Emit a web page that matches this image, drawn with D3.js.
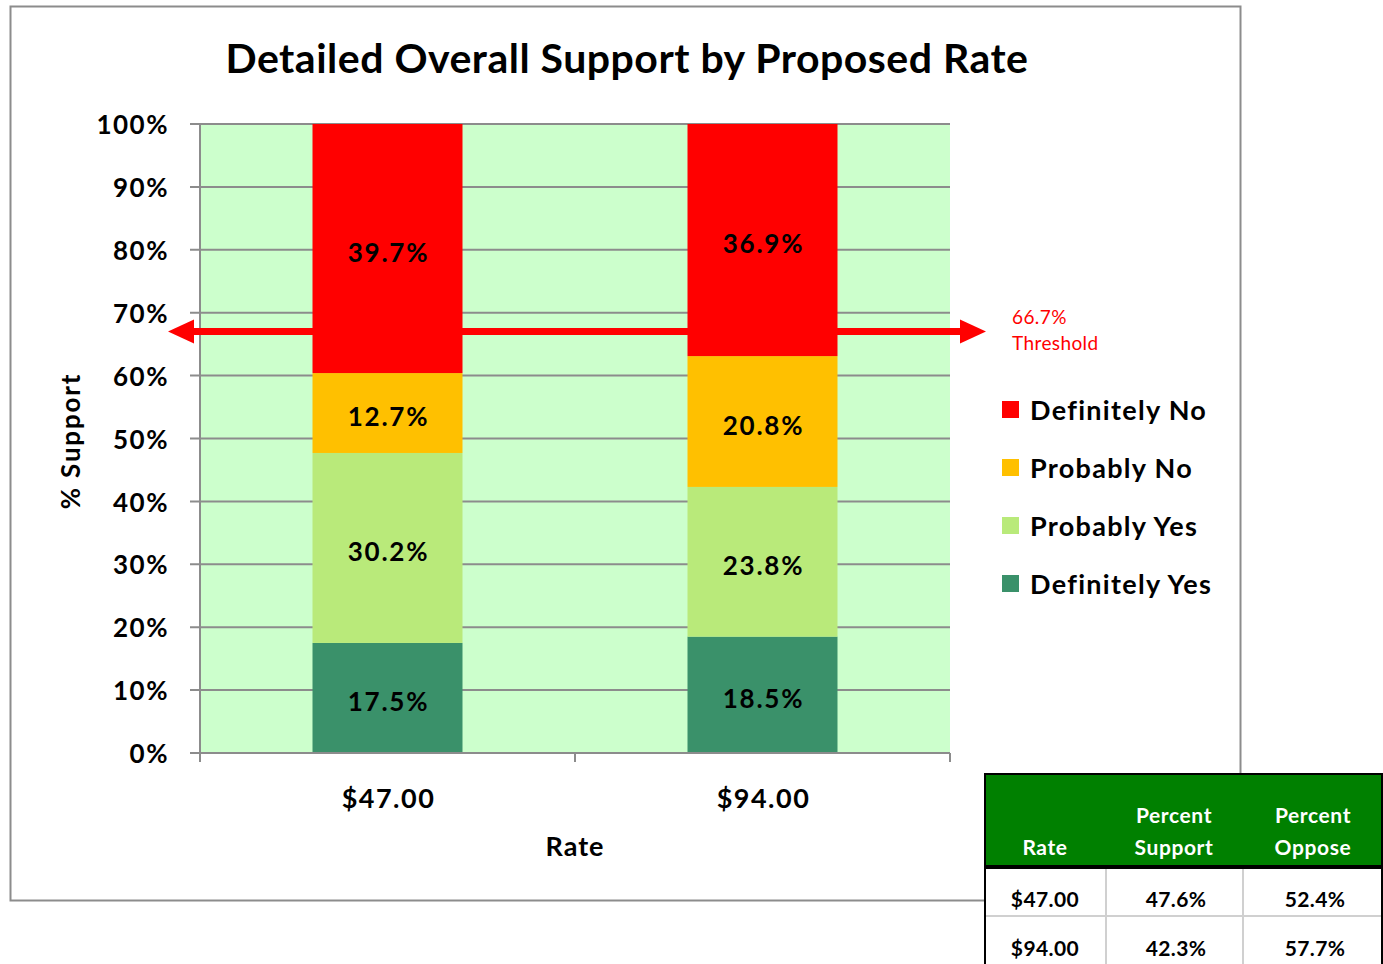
<!DOCTYPE html>
<html>
<head>
<meta charset="utf-8">
<script src="https://cdn.jsdelivr.net/npm/d3@7"></script>
<style>
  body { margin: 0; background: #fff; }
  svg { font-family: Lato, "Open Sans", sans-serif; }
</style>
</head>
<body>
<svg id="chart"></svg>
<script>
// chart data
const rates = ["$47.00", "$94.00"];
const seriesNames = ["Definitely Yes", "Probably Yes", "Probably No", "Definitely No"];
const definitelyYes = [17.5, 18.5];
const probablyYes = [30.2, 23.8];
const probablyNo = [12.7, 20.8];
const definitelyNo = [39.7, 36.9];
const yTicks = [0, 10, 20, 30, 40, 50, 60, 70, 80, 90, 100];
const threshold = 66.7;

// summary table
const tableHeader = [["Rate"], ["Percent", "Support"], ["Percent", "Oppose"]];
const tableRows = [
  ["$47.00", "47.6%", "52.4%"],
  ["$94.00", "42.3%", "57.7%"]
];

const COLORS = {
  "Definitely No": "#FF0000",
  "Probably No": "#FFC000",
  "Probably Yes": "#B9EA7A",
  "Definitely Yes": "#3A916A"
};

const width = 1383;
const height = 964;

const svg = d3.select("#chart")
  .attr("width", width)
  .attr("height", height);

// chart frame
svg.append("rect")
  .attr("x", 10.5).attr("y", 6.5)
  .attr("width", 1230).attr("height", 894)
  .attr("fill", "#fff")
  .attr("stroke", "#8c8c8c")
  .attr("stroke-width", 2);

const plot = { left: 200, right: 950, top: 124, bottom: 753 };

const x = d3.scaleBand()
  .domain(rates)
  .range([plot.left, plot.right])
  .paddingInner(0.6)
  .paddingOuter(0.3);

const y = d3.scaleLinear()
  .domain([0, 100])
  .range([plot.bottom, plot.top]);

// plot background
svg.append("rect")
  .attr("x", plot.left).attr("y", plot.top)
  .attr("width", plot.right - plot.left)
  .attr("height", plot.bottom - plot.top)
  .attr("fill", "#CCFFCC");

// gridlines + y ticks
svg.append("g")
  .selectAll("line")
  .data(yTicks)
  .join("line")
  .attr("x1", plot.left - 10)
  .attr("x2", plot.right)
  .attr("y1", d => y(d))
  .attr("y2", d => y(d))
  .attr("stroke", "#8c8c8c")
  .attr("stroke-width", 2);

svg.append("g")
  .selectAll("text")
  .data(yTicks)
  .join("text")
  .attr("x", plot.left - 31)
  .attr("y", d => y(d) + 1)
  .attr("dy", "0.35em")
  .attr("text-anchor", "end")
  .attr("font-size", 26)
  .attr("font-weight", "bold")
  .attr("letter-spacing", 1.5)
  .text(d => d + "%");

// stacked bars
const table = rates.map((r, i) => ({
  rate: r,
  "Definitely Yes": definitelyYes[i],
  "Probably Yes": probablyYes[i],
  "Probably No": probablyNo[i],
  "Definitely No": definitelyNo[i]
}));

const stacked = d3.stack().keys(seriesNames)(table);

const layers = svg.append("g")
  .selectAll("g")
  .data(stacked)
  .join("g")
  .attr("fill", d => COLORS[d.key]);

layers.selectAll("rect")
  .data(d => d)
  .join("rect")
  .attr("x", d => x(d.data.rate))
  .attr("width", x.bandwidth())
  .attr("y", d => y(Math.min(d[1], 100)))
  .attr("height", d => y(d[0]) - y(Math.min(d[1], 100)));

layers.selectAll("text")
  .data(d => d.map(v => ({ v, key: d.key })))
  .join("text")
  .attr("x", d => x(d.v.data.rate) + x.bandwidth() / 2 + 1)
  .attr("y", d => y((d.v[0] + Math.min(d.v[1], 100)) / 2) + 4)
  .attr("dy", "0.35em")
  .attr("text-anchor", "middle")
  .attr("fill", "#000")
  .attr("font-size", 26)
  .attr("font-weight", "bold")
  .attr("letter-spacing", 1.8)
  .text(d => d.v.data[d.key].toFixed(1) + "%");

// axis lines
svg.append("line")
  .attr("x1", plot.left).attr("x2", plot.left)
  .attr("y1", plot.top).attr("y2", plot.bottom + 9)
  .attr("stroke", "#8c8c8c").attr("stroke-width", 2);

svg.append("line")
  .attr("x1", plot.left - 10).attr("x2", plot.right)
  .attr("y1", plot.bottom).attr("y2", plot.bottom)
  .attr("stroke", "#8c8c8c").attr("stroke-width", 2);

const catEdges = [plot.left, (x(rates[0]) + x(rates[1]) + x.bandwidth()) / 2, plot.right];
svg.append("g")
  .selectAll("line")
  .data(catEdges)
  .join("line")
  .attr("x1", d => d).attr("x2", d => d)
  .attr("y1", plot.bottom).attr("y2", plot.bottom + 9)
  .attr("stroke", "#8c8c8c").attr("stroke-width", 2);

svg.append("g")
  .selectAll("text")
  .data(rates)
  .join("text")
  .attr("x", d => x(d) + x.bandwidth() / 2 + 1)
  .attr("y", 799)
  .attr("dy", "0.35em")
  .attr("text-anchor", "middle")
  .attr("font-size", 27)
  .attr("font-weight", "bold")
  .attr("letter-spacing", 1.5)
  .text(d => d);

// threshold arrow
const ty = y(threshold) - 2;
const arrowX1 = 168, arrowX2 = 986;
svg.append("line")
  .attr("x1", arrowX1 + 20).attr("x2", arrowX2 - 20)
  .attr("y1", ty).attr("y2", ty)
  .attr("stroke", "#FF0000")
  .attr("stroke-width", 7);
svg.append("path")
  .attr("d", `M${arrowX1},${ty} L${arrowX1 + 26},${ty - 12} L${arrowX1 + 26},${ty + 12} Z`)
  .attr("fill", "#FF0000");
svg.append("path")
  .attr("d", `M${arrowX2},${ty} L${arrowX2 - 26},${ty - 12} L${arrowX2 - 26},${ty + 12} Z`)
  .attr("fill", "#FF0000");

svg.append("text")
  .attr("x", 1012).attr("y", 324)
  .attr("fill", "#FF0000").attr("font-size", 19)
  .attr("letter-spacing", 0.4)
  .text(threshold + "%");
svg.append("text")
  .attr("x", 1012).attr("y", 350)
  .attr("fill", "#FF0000").attr("font-size", 19)
  .attr("letter-spacing", 0.4)
  .text("Threshold");

// titles
svg.append("text")
  .attr("x", 627).attr("y", 73)
  .attr("text-anchor", "middle")
  .attr("font-size", 41)
  .attr("font-weight", "bold")
  .attr("letter-spacing", 0.5)
  .text("Detailed Overall Support by Proposed Rate");

svg.append("text")
  .attr("x", 575).attr("y", 856)
  .attr("text-anchor", "middle")
  .attr("font-size", 27)
  .attr("font-weight", "bold")
  .attr("letter-spacing", 1)
  .text("Rate");

svg.append("text")
  .attr("transform", "translate(80,441) rotate(-90)")
  .attr("text-anchor", "middle")
  .attr("font-size", 26)
  .attr("font-weight", "bold")
  .attr("letter-spacing", 1.8)
  .text("% Support");

// legend
const legendOrder = ["Definitely No", "Probably No", "Probably Yes", "Definitely Yes"];
const legend = svg.append("g")
  .selectAll("g")
  .data(legendOrder)
  .join("g")
  .attr("transform", (d, i) => `translate(1002,${410 + i * 58})`);
legend.append("rect")
  .attr("x", 0).attr("y", -9)
  .attr("width", 17).attr("height", 17)
  .attr("fill", d => COLORS[d]);
legend.append("text")
  .attr("x", 28).attr("y", 1)
  .attr("dy", "0.35em")
  .attr("font-size", 27)
  .attr("font-weight", "bold")
  .attr("letter-spacing", 1.3)
  .text(d => d);

// summary table
const colEdges = [985, 1106, 1243, 1382];
const headTop = 774, headBottom = 867, rowH = 49;
const tbl = svg.append("g");
tbl.append("rect")
  .attr("x", colEdges[0]).attr("y", headTop)
  .attr("width", colEdges[3] - colEdges[0])
  .attr("height", height - headTop + 5)
  .attr("fill", "#fff");
tbl.append("rect")
  .attr("x", colEdges[0]).attr("y", headTop)
  .attr("width", colEdges[3] - colEdges[0])
  .attr("height", headBottom - headTop)
  .attr("fill", "#008000");

// body separators
tbl.selectAll("line.col")
  .data(colEdges.slice(1, 3))
  .join("line")
  .attr("x1", d => d).attr("x2", d => d)
  .attr("y1", headBottom).attr("y2", height)
  .attr("stroke", "#d0d0d0").attr("stroke-width", 2);
tbl.append("line")
  .attr("x1", colEdges[0]).attr("x2", colEdges[3])
  .attr("y1", headBottom + rowH).attr("y2", headBottom + rowH)
  .attr("stroke", "#d0d0d0").attr("stroke-width", 2);

// borders
tbl.append("rect")
  .attr("x", colEdges[0]).attr("y", headTop)
  .attr("width", colEdges[3] - colEdges[0])
  .attr("height", height - headTop + 5)
  .attr("fill", "none")
  .attr("stroke", "#000").attr("stroke-width", 2);
tbl.append("line")
  .attr("x1", colEdges[0]).attr("x2", colEdges[3])
  .attr("y1", headBottom).attr("y2", headBottom)
  .attr("stroke", "#000").attr("stroke-width", 4);

const colCenters = [1045, 1174, 1313];
tableHeader.forEach((lines, i) => {
  lines.forEach((t, j) => {
    tbl.append("text")
      .attr("x", colCenters[i])
      .attr("y", 855 - (lines.length - 1 - j) * 32)
      .attr("text-anchor", "middle")
      .attr("fill", "#fff")
      .attr("font-size", 21)
      .attr("font-weight", "bold")
      .attr("letter-spacing", 0.6)
      .text(t);
  });
});

tableRows.forEach((row, r) => {
  row.forEach((t, i) => {
    tbl.append("text")
      .attr("x", colCenters[i] + (i === 0 ? 0 : 2))
      .attr("y", headBottom + rowH * r + rowH / 2 + 15)
      .attr("text-anchor", "middle")
      .attr("font-size", 21)
      .attr("font-weight", "bold")
      .attr("letter-spacing", 0.4)
      .text(t);
  });
});
</script>
</body>
</html>
